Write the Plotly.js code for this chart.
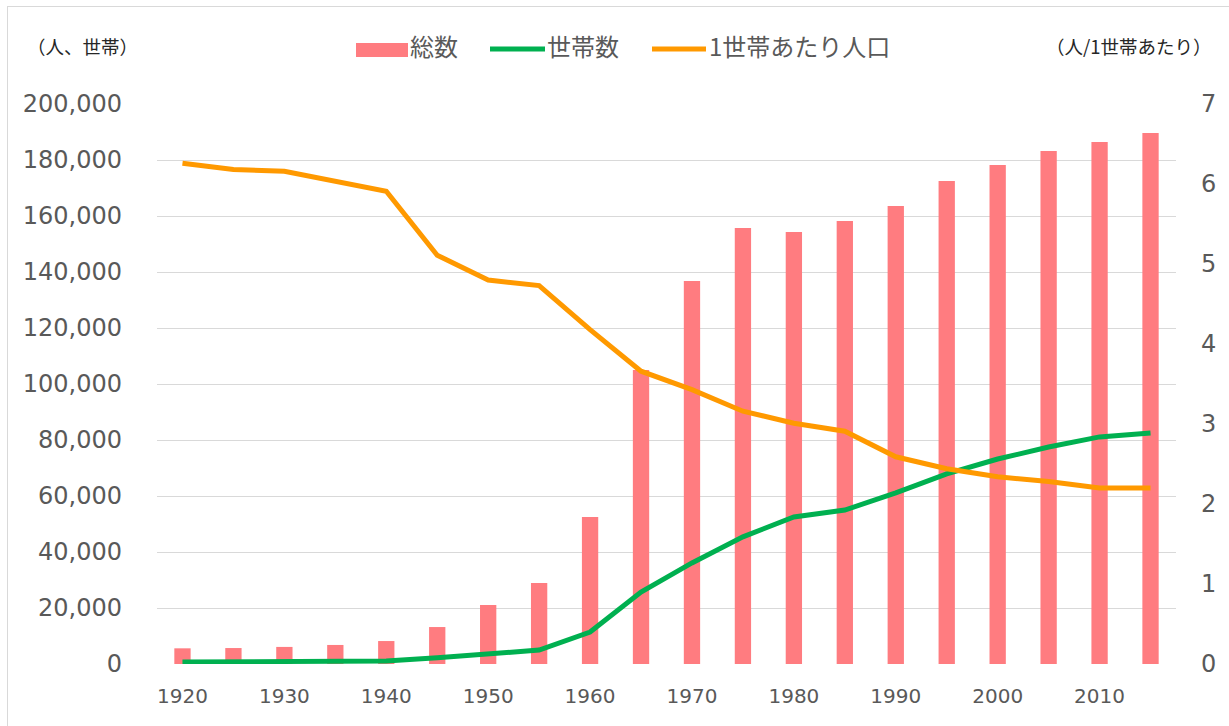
<!DOCTYPE html>
<html><head><meta charset="utf-8">
<script src="https://cdn.plot.ly/plotly-3.0.1.min.js"></script>
<style>
body{margin:0;padding:0;background:#fff;}
#wrap{position:relative;width:1229px;height:726px;overflow:hidden;}
#chart{position:absolute;left:0;top:0;width:1229px;height:726px;}
#frame{position:absolute;left:7px;top:6px;width:1240px;height:740px;border:1px solid #d9d9d9;pointer-events:none;}
</style>
</head><body>
<div id="wrap"><div id="chart"></div><div id="frame"></div></div>
<script>
const years = [1920,1925,1930,1935,1940,1945,1950,1955,1960,1965,1970,1975,1980,1985,1990,1995,2000,2005,2010,2015];
const total = [5600,5700,6100,6800,8200,13200,21100,28900,52500,105000,136800,155700,154300,158200,163600,172500,178200,183200,186400,189600];
const households = [700,800,850,900,1100,2200,3600,5000,11400,25700,36100,45400,52500,55000,61100,67900,73200,77500,81100,82500];
const perHousehold = [6.26,6.18,6.16,6.03,5.91,5.11,4.80,4.73,4.18,3.66,3.43,3.16,3.01,2.91,2.59,2.44,2.34,2.28,2.20,2.20];
const xTicks = [1920,1930,1940,1950,1960,1970,1980,1990,2000,2010];
const names = ['総数','世帯数','1世帯あたり人口'];
const colors = ['#ff7c80','#00b050','#ff9900'];
const leftUnit = '（人、世帯）';
const rightUnit = '（人/1世帯あたり）';

const FONT = '"Noto Sans CJK JP", "Noto Sans", sans-serif';
const NUMFONT = '"DejaVu Sans", "Noto Sans CJK JP", sans-serif';
const GREY = '#595959';

// plot area in pixels (for placing the hand-made legend)
const PL = 157, PR = 1176, PT = 104, PB = 664;
const px = v => (v - PL) / (PR - PL);
const py = v => (PB - v) / (PB - PT);

const traces = [
  {type:'bar', x:years, y:total, name:names[0], width:1.6,
   marker:{color:colors[0]}, hoverinfo:'skip'},
  {type:'scatter', mode:'lines', x:years, y:households, name:names[1],
   line:{color:colors[1], width:5}, hoverinfo:'skip'},
  {type:'scatter', mode:'lines', x:years, y:perHousehold, name:names[2], yaxis:'y2',
   line:{color:colors[2], width:5}, hoverinfo:'skip'}
];

const legendY = 49;
const shapes = [
  {type:'rect', xref:'paper', yref:'paper', x0:px(356), x1:px(408), y0:py(57), y1:py(43),
   fillcolor:colors[0], line:{width:0}},
  {type:'line', xref:'paper', yref:'paper', x0:px(490), x1:px(545), y0:py(legendY), y1:py(legendY),
   line:{color:colors[1], width:5}},
  {type:'line', xref:'paper', yref:'paper', x0:px(652), x1:px(706), y0:py(legendY), y1:py(legendY),
   line:{color:colors[2], width:5}}
];

const legText = (t, x) => ({text:t, xref:'paper', yref:'paper', x:px(x), y:py(legendY - 3),
  xanchor:'left', yanchor:'middle', showarrow:false, font:{size:24, color:GREY, family:FONT}});

const layout = {
  width:1229, height:726,
  margin:{l:PL, r:1229-PR, t:PT, b:726-PB},
  paper_bgcolor:'#fff', plot_bgcolor:'#fff',
  font:{family:FONT, color:GREY},
  showlegend:false,
  xaxis:{range:[1917.5,2017.5], tickvals:xTicks, showgrid:false, zeroline:false,
         showline:false, ticks:'', tickfont:{size:20, color:GREY, family:NUMFONT},
         ticklabelstandoff:18, fixedrange:true},
  yaxis:{range:[0,200000], dtick:20000, tickformat:',d', showgrid:true,
         gridcolor:'#d9d9d9', gridwidth:1, zeroline:false, showline:false, ticks:'',
         tickfont:{size:24, color:GREY, family:NUMFONT}, ticklabelstandoff:34, fixedrange:true},
  yaxis2:{range:[0,7], dtick:1, overlaying:'y', side:'right', showgrid:false,
          zeroline:false, showline:false, ticks:'', tickfont:{size:24, color:GREY, family:NUMFONT},
          ticklabelstandoff:24, fixedrange:true},
  shapes:shapes,
  annotations:[
    {text:leftUnit, xref:'paper', yref:'paper', x:px(25), y:py(46), xanchor:'left',
     yanchor:'middle', showarrow:false, font:{size:18.5, color:'#262626'}},
    {text:rightUnit, xref:'paper', yref:'paper', x:px(1214), y:py(46), xanchor:'right',
     yanchor:'middle', showarrow:false, font:{size:18.5, color:'#262626'}},
    legText(names[0], 408),
    legText(names[1], 545),
    legText(names[2], 707)
  ]
};

Plotly.newPlot('chart', traces, layout, {displayModeBar:false, staticPlot:true});
</script>
</body></html>
